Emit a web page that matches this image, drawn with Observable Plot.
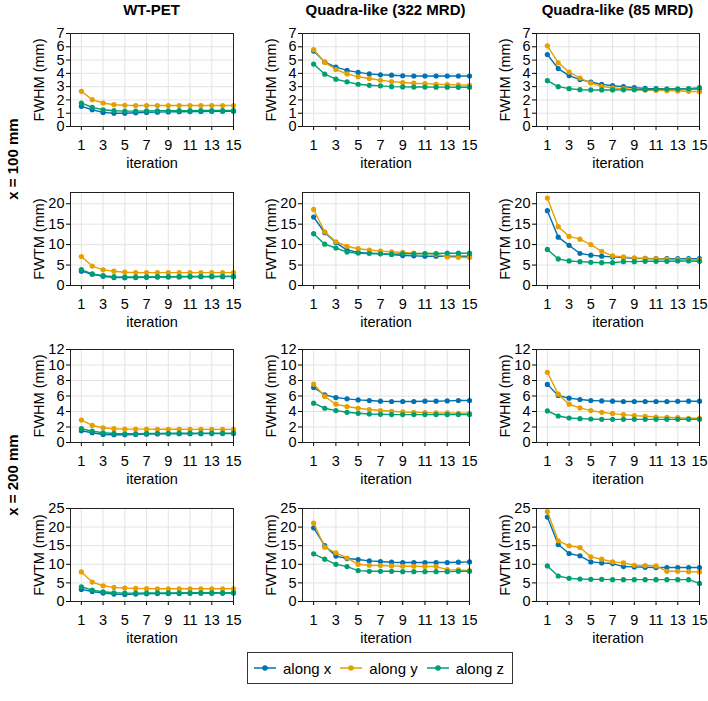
<!DOCTYPE html>
<html>
<head>
<meta charset="utf-8">
<script src="https://cdn.jsdelivr.net/npm/d3@7"></script>
<script src="https://cdn.jsdelivr.net/npm/@observablehq/plot@0.6"></script>
<style>
  body { margin: 0; background: #fff; font-family: "Liberation Sans", Arial, Helvetica, sans-serif; }
  #chart { position: relative; width: 708px; height: 701px; overflow: hidden; color: #000; background: #fff; }
  .title { position: absolute; font-weight: bold; font-size: 15px; transform: translateX(-50%); white-space: nowrap; line-height: 1; }
  .rowlab { position: absolute; font-weight: bold; font-size: 15px; white-space: nowrap; line-height: 1; transform: translate(-50%, -50%) rotate(-90deg); }
  .legend { position: absolute; border: 1px solid #333; display: flex; align-items: center; justify-content: space-between; box-sizing: border-box; font-size: 15px; padding: 0 8px 0 5px; background: #fff; }
  .legend .item { display: flex; align-items: center; gap: 6px; white-space: nowrap; }
</style>
</head>
<body>
<div id="chart"></div>
<script>
// ---------- data ----------
const iterations = [1, 2, 3, 4, 5, 6, 7, 8, 9, 10, 11, 12, 13, 14, 15];
const xTicks = [1, 3, 5, 7, 9, 11, 13, 15];
const columnTitles = ["WT-PET", "Quadra-like (322 MRD)", "Quadra-like (85 MRD)"];
const rowGroupLabels = ["x = 100 mm", "x = 200 mm"];
const seriesNames = ["along x", "along y", "along z"];
const seriesColors = ["#0072B2", "#E69F00", "#009E73"];
const rowMetrics = ["FWHM (mm)", "FWTM (mm)", "FWHM (mm)", "FWTM (mm)"];
const rowYMax = [7, 22.75, 12, 25];
const rowYTicks = [
  [0, 1, 2, 3, 4, 5, 6, 7],
  [0, 5, 10, 15, 20],
  [0, 2, 4, 6, 8, 10, 12],
  [0, 5, 10, 15, 20, 25]
];

// x = 100 mm, FWHM
const wt100Fwhm = {
  x: [1.52, 1.26, 1.06, 1.0, 1.0, 1.03, 1.06, 1.08, 1.1, 1.11, 1.12, 1.13, 1.14, 1.15, 1.15],
  y: [2.65, 2.02, 1.77, 1.64, 1.6, 1.58, 1.58, 1.58, 1.58, 1.58, 1.58, 1.58, 1.58, 1.58, 1.58],
  z: [1.77, 1.44, 1.26, 1.19, 1.16, 1.16, 1.17, 1.18, 1.18, 1.19, 1.19, 1.2, 1.2, 1.2, 1.2]
};
const q322_100Fwhm = {
  x: [5.68, 4.85, 4.47, 4.22, 4.07, 3.96, 3.89, 3.86, 3.82, 3.8, 3.8, 3.8, 3.8, 3.8, 3.8],
  y: [5.78, 4.82, 4.29, 3.96, 3.74, 3.61, 3.48, 3.38, 3.31, 3.26, 3.23, 3.18, 3.16, 3.13, 3.1],
  z: [4.7, 3.94, 3.56, 3.36, 3.18, 3.1, 3.06, 3.0, 2.98, 2.97, 2.97, 2.96, 2.96, 2.95, 2.95]
};
const q85_100Fwhm = {
  x: [5.42, 4.36, 3.83, 3.53, 3.35, 3.17, 3.07, 3.0, 2.92, 2.87, 2.85, 2.82, 2.82, 2.82, 2.82],
  y: [6.07, 4.79, 4.1, 3.65, 3.27, 3.02, 2.9, 2.85, 2.8, 2.75, 2.72, 2.7, 2.67, 2.65, 2.62],
  z: [3.45, 3.0, 2.85, 2.77, 2.75, 2.75, 2.75, 2.76, 2.77, 2.77, 2.8, 2.82, 2.82, 2.85, 2.92]
};
// x = 100 mm, FWTM
const wt100Fwtm = {
  x: [3.5, 2.75, 2.25, 1.95, 1.92, 1.95, 2.0, 2.05, 2.08, 2.1, 2.12, 2.14, 2.15, 2.16, 2.17],
  y: [7.1, 4.75, 3.83, 3.5, 3.25, 3.17, 3.15, 3.15, 3.15, 3.15, 3.15, 3.15, 3.15, 3.15, 3.15],
  z: [3.9, 2.83, 2.42, 2.17, 2.08, 2.08, 2.12, 2.15, 2.18, 2.2, 2.22, 2.23, 2.24, 2.25, 2.25]
};
const q322_100Fwtm = {
  x: [16.75, 12.9, 10.5, 8.67, 8.1, 7.9, 7.75, 7.6, 7.33, 7.25, 7.17, 7.17, 7.17, 7.17, 7.17],
  y: [18.6, 13.1, 10.7, 9.6, 9.0, 8.67, 8.4, 8.25, 8.1, 7.9, 7.8, 7.67, 7.0, 6.9, 6.83],
  z: [12.67, 10.1, 9.17, 8.17, 7.9, 7.83, 7.75, 7.67, 7.75, 7.75, 7.83, 7.83, 7.9, 7.9, 7.9]
};
const q85_100Fwtm = {
  x: [18.3, 11.83, 9.83, 7.83, 7.42, 7.17, 7.0, 6.83, 6.67, 6.62, 6.58, 6.58, 6.58, 6.58, 6.58],
  y: [21.4, 14.4, 12.0, 11.33, 10.0, 8.33, 7.25, 7.0, 6.75, 6.58, 6.5, 6.42, 6.4, 6.33, 6.25],
  z: [8.83, 6.5, 6.0, 5.83, 5.67, 5.58, 5.58, 5.83, 5.83, 5.92, 5.92, 5.92, 6.0, 6.0, 5.92]
};
// x = 200 mm, FWHM
const wt200Fwhm = {
  x: [1.52, 1.26, 1.04, 1.0, 1.0, 1.04, 1.08, 1.1, 1.12, 1.13, 1.13, 1.14, 1.15, 1.15, 1.15],
  y: [2.9, 2.2, 1.9, 1.78, 1.73, 1.72, 1.72, 1.71, 1.71, 1.71, 1.7, 1.7, 1.7, 1.7, 1.7],
  z: [1.78, 1.47, 1.26, 1.17, 1.13, 1.13, 1.17, 1.18, 1.19, 1.2, 1.2, 1.2, 1.21, 1.21, 1.21]
};
const q322_200Fwhm = {
  x: [7.1, 6.15, 5.8, 5.63, 5.5, 5.42, 5.33, 5.29, 5.29, 5.29, 5.33, 5.33, 5.37, 5.42, 5.42],
  y: [7.54, 5.94, 4.94, 4.64, 4.42, 4.25, 4.12, 4.03, 3.94, 3.9, 3.86, 3.81, 3.81, 3.77, 3.77],
  z: [5.07, 4.42, 4.12, 3.9, 3.77, 3.68, 3.64, 3.6, 3.6, 3.6, 3.6, 3.6, 3.6, 3.6, 3.6]
};
const q85_200Fwhm = {
  x: [7.5, 6.07, 5.72, 5.55, 5.42, 5.37, 5.33, 5.29, 5.29, 5.29, 5.29, 5.29, 5.31, 5.33, 5.33],
  y: [9.06, 6.24, 4.94, 4.46, 4.12, 3.9, 3.73, 3.6, 3.47, 3.38, 3.29, 3.25, 3.2, 3.12, 3.12],
  z: [4.07, 3.42, 3.16, 3.08, 3.03, 2.99, 2.99, 2.99, 2.99, 2.99, 2.99, 2.99, 2.99, 2.99, 2.99]
};
// x = 200 mm, FWTM
const wt200Fwtm = {
  x: [3.25, 2.7, 2.26, 1.99, 1.9, 1.99, 2.08, 2.12, 2.15, 2.18, 2.2, 2.22, 2.24, 2.25, 2.26],
  y: [7.94, 5.23, 4.24, 3.79, 3.61, 3.52, 3.45, 3.43, 3.43, 3.43, 3.43, 3.43, 3.43, 3.43, 3.43],
  z: [3.97, 3.07, 2.62, 2.35, 2.26, 2.26, 2.28, 2.3, 2.32, 2.33, 2.34, 2.35, 2.35, 2.35, 2.35]
};
const q322_200Fwtm = {
  x: [19.8, 15.0, 12.2, 11.55, 11.28, 10.92, 10.74, 10.56, 10.47, 10.47, 10.47, 10.47, 10.47, 10.56, 10.65],
  y: [21.1, 14.6, 13.1, 11.7, 10.0, 9.75, 9.66, 9.57, 9.48, 9.48, 9.39, 9.39, 8.57, 8.48, 8.3],
  z: [12.82, 11.37, 10.0, 9.39, 8.3, 8.12, 8.12, 8.12, 8.03, 8.03, 8.03, 8.03, 8.03, 8.1, 8.12]
};
const q85_200Fwtm = {
  x: [22.7, 15.3, 12.9, 12.27, 10.65, 10.38, 10.2, 9.39, 9.3, 9.2, 9.12, 9.12, 9.12, 9.12, 9.12],
  y: [24.2, 16.3, 14.98, 14.5, 12.0, 11.37, 10.65, 10.38, 9.75, 9.66, 9.57, 8.12, 8.12, 8.03, 7.94],
  z: [9.57, 6.86, 6.23, 6.05, 5.96, 5.96, 5.87, 5.87, 5.87, 5.87, 5.87, 5.87, 5.87, 5.87, 4.87]
};

const panelGrid = [
  [wt100Fwhm, q322_100Fwhm, q85_100Fwhm],
  [wt100Fwtm, q322_100Fwtm, q85_100Fwtm],
  [wt200Fwhm, q322_200Fwhm, q85_200Fwhm],
  [wt200Fwtm, q322_200Fwtm, q85_200Fwtm]
];

// ---------- layout ----------
const colLeft = [70, 302, 536];
const colWidth = [163, 167, 163];
const rowTop = [33, 192, 349, 508];
const frameH = 93;
const mL = 56, mR = 12, mT = 8, mB = 50;

const chart = document.getElementById("chart");

function makePanel(vals, r, c) {
  const keys = ["x", "y", "z"];
  const marks = [
    Plot.gridX(xTicks, {stroke: "#e4e4e4", strokeOpacity: 1}),
    Plot.gridY(rowYTicks[r], {stroke: "#e4e4e4", strokeOpacity: 1}),
    Plot.axisX(xTicks, {tickSize: 4, tickPadding: 9, fontSize: 14.5, label: "iteration", labelAnchor: "center", labelArrow: "none", labelOffset: 41}),
    Plot.axisY(rowYTicks[r], {tickSize: 4, tickPadding: 2, fontSize: 14.5, label: rowMetrics[r], labelAnchor: "center", labelArrow: "none", labelOffset: 37})
  ];
  keys.forEach((k, si) => {
    const data = vals[k].map((v, i) => ({iter: iterations[i], value: v}));
    marks.push(Plot.line(data, {x: "iter", y: "value", stroke: seriesColors[si], strokeWidth: 1.4}));
    marks.push(Plot.dot(data, {x: "iter", y: "value", fill: seriesColors[si], r: 2.6}));
  });
  marks.push(Plot.frame({stroke: "#222", strokeWidth: 1}));
  const svg = Plot.plot({
    width: colWidth[c] + mL + mR,
    height: frameH + mT + mB,
    marginLeft: mL, marginRight: mR, marginTop: mT, marginBottom: mB,
    x: {domain: [0, 15]},
    y: {domain: [0, rowYMax[r]]},
    style: {background: "transparent", overflow: "visible", fontSize: "14.5px", fontFamily: "'Liberation Sans', Arial, sans-serif", color: "#000"},
    marks
  });
  svg.style.position = "absolute";
  svg.style.left = (colLeft[c] - mL) + "px";
  svg.style.top = (rowTop[r] - mT) + "px";
  svg.style.maxWidth = "none";
  chart.appendChild(svg);
}

panelGrid.forEach((row, r) => row.forEach((vals, c) => makePanel(vals, r, c)));

// column titles
columnTitles.forEach((t, c) => {
  const d = document.createElement("div");
  d.className = "title";
  d.textContent = t;
  d.style.left = (colLeft[c] + colWidth[c] / 2) + "px";
  d.style.top = "2px";
  chart.appendChild(d);
});

// row group labels
rowGroupLabels.forEach((t, g) => {
  const d = document.createElement("div");
  d.className = "rowlab";
  d.textContent = t;
  const top = rowTop[g * 2], bottom = rowTop[g * 2 + 1] + frameH;
  d.style.left = "12px";
  d.style.top = ((top + bottom) / 2) + "px";
  chart.appendChild(d);
});

// legend
const legend = document.createElement("div");
legend.className = "legend";
legend.style.left = "247px";
legend.style.top = "652px";
legend.style.width = "266px";
legend.style.height = "32px";
seriesNames.forEach((name, i) => {
  const item = document.createElement("div");
  item.className = "item";
  item.innerHTML = `<svg width="24" height="10"><line x1="1" y1="5" x2="23" y2="5" stroke="${seriesColors[i]}" stroke-width="1.5"/><circle cx="12" cy="5" r="2.8" fill="${seriesColors[i]}"/></svg><span>${name}</span>`;
  legend.appendChild(item);
});
chart.appendChild(legend);
</script>
</body>
</html>
